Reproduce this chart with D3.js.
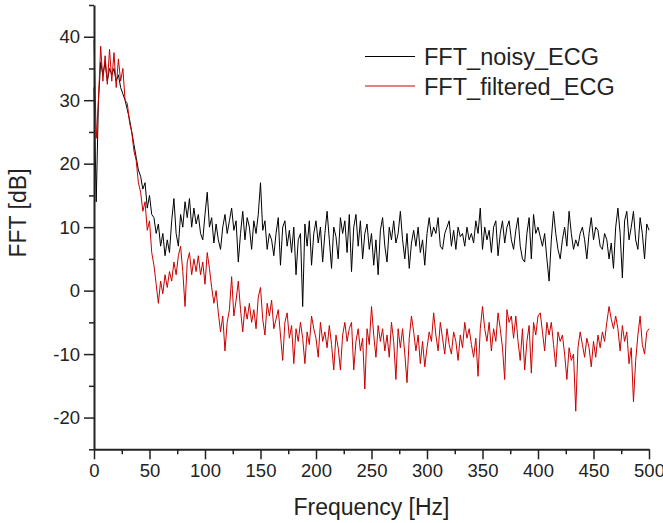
<!DOCTYPE html>
<html>
<head>
<meta charset="utf-8">
<script src="https://cdn.jsdelivr.net/npm/d3@7"></script>
<style>
  html, body { margin: 0; padding: 0; background: #fff; }
  svg { display: block; font-family: 'Liberation Sans', Arial, sans-serif; }
</style>
</head>
<body>
<div id="chart"></div>
<script>
// spectrum sampled every 2 Hz, 0..500 Hz
const FREQ_STEP = 2

const noisyECG = [
  32, 14, 30, 36, 34, 36, 33, 35, 34, 35,
  33, 34, 32, 31, 30, 28.5, 27, 25, 23, 21,
  19, 18, 16, 17, 13, 15, 12, 11.5, 9, 10.5,
  7, 9, 5.5, 8, 6, 11, 14.5, 9, 7, 12,
  10, 14, 11.5, 14.5, 10, 13, 10.5, 12, 9, 8,
  12, 15.5, 10, 11.5, 7.5, 10.5, 8, 6.5, 10, 12,
  9, 11, 13, 9.5, 11, 4.5, 9, 12.5, 8, 11.5,
  10, 6.5, 11, 9, 12, 17, 9.5, 11, 6.5, 9,
  8, 5.5, 9, 11.5, 4, 10, 11, 7, 9.5, 6,
  10, 2.5, 8, 9, -2.5, 10.5, 7, 11, 4, 9,
  11, 7.5, 10, 4.5, 9, 12.5, 8, 3.5, 10, 8.5,
  5, 11.5, 9, 11, 6, 12, 3, 10, 12, 7,
  11, 5, 9, 10.5, 6.5, 9, 4, 8, 2.5, 9.5,
  11.5, 7, 4.5, 10, 8, 11, 7.5, 9, 12.5, 8,
  5, 9, 3.5, 7.5, 9.5, 7, 10, 6, 8, 4,
  9, 11.5, 8.5, 10, 9, 11.5, 7, 6.5, 9, 10,
  11, 7, 9.5, 6.5, 10, 8.5, 9, 7, 10, 8,
  9, 7.5, 11, 9, 13, 6.5, 10, 8, 9.5, 6,
  10, 11, 5.5, 9, 11, 7.5, 10, 11, 8, 6.5,
  9.5, 11.5, 7, 5, 4.5, 9, 11.5, 5, 12, 9,
  10, 8.5, 7, 9, 5, 1.5, 8, 12.5, 9, 6.5,
  5, 8, 10, 7, 12.5, 9, 6.5, 8, 7, 9,
  10, 8, 5, 9, 11.5, 8, 10, 9.5, 7, 6.5,
  9, 8, 5, 7.5, 3.5, 10, 13, 9, 2, 11,
  12.5, 8, 10, 12.5, 8, 6.5, 11.5, 9, 5, 10.5,
  9.5
]

const filteredECG = [
  39.5, 24, 30, 38.5, 33, 37, 32.5, 38, 33, 37.5,
  32, 36.5, 33, 35, 30, 29.5, 26.5, 25, 22, 20.5,
  17, 15.5, 12.5, 14, 9.5, 11, 6, 4, 1, -2,
  1.5, -0.5, 2.5, 0.5, 3, 1.5, 4.5, 2.5, 5.5, 7,
  3, -2.5, 4.5, 6, 2.5, 5, 3, 5.5, 2.5, 4.5,
  1, 6, 3.5, 0.5, -2, 0, -3.5, -6.5, -4, -9.5,
  -5, -3, 2.2, -4, -1.5, 1.5, -3, -6.5, -2.5, -4.5,
  -2, -5, -3, -6, -1, 0.5, -4.5, -7, -2, -4,
  -1.5, -6, -4.5, -3, -7, -11, -5, -3.5, -7.5, -5.5,
  -11.5, -6, -8, -5, -7.5, -11.5, -6.5, -8.5, -4, -6,
  -7.5, -10.5, -5, -8, -6.5, -9, -5.5, -8.5, -12.5, -7,
  -9, -12.5, -7, -5, -8, -6, -5, -12.5, -8, -6,
  -9.5, -7.5, -15.5, -6, -8.5, -2.5, -7, -10.5, -5.5, -8,
  -6, -9.5, -7, -10.5, -5, -8, -14, -6, -9, -6,
  -10, -14.5, -7.5, -4, -6.5, -9.5, -7, -11.5, -8, -12,
  -9, -6.5, -8, -3.5, -7, -9.5, -5, -7.5, -10, -6,
  -8.5, -10, -6.5, -8, -11, -7, -9, -5, -7.5, -6,
  -8.5, -10.5, -7.5, -13.5, -6, -2.5, -6, -8, -5, -9.5,
  -6, -8, -3.5, -6, -9, -14, -3, -5, -4, -7.5,
  -4, -8, -11, -6, -12.5, -8, -5.5, -13, -5, -7,
  -4, -3.5, -6.5, -9.5, -5, -7, -5, -8.5, -12, -6.5,
  -8, -7, -10, -14, -9, -11, -10, -19, -9, -6.5,
  -8.5, -10.5, -7.5, -9, -12, -8, -10.5, -7, -9, -6.5,
  -8, -5, -2.5, -4.5, -6, -4, -6, -9.5, -5.5, -8,
  -6.5, -11.5, -9, -17.5, -11, -7, -4, -8.5, -10, -6.5,
  -6
]

const xTicks = [0, 50, 100, 150, 200, 250, 300, 350, 400, 450, 500]
const xMinor = [25, 75, 125, 175, 225, 275, 325, 375, 425, 475]
const yTicks = [-20, -10, 0, 10, 20, 30, 40]
const yMinor = [-25, -15, -5, 5, 15, 25, 35, 45]

const seriesNames = ['FFT_noisy_ECG', 'FFT_filtered_ECG']
const seriesColors = ['#000000', '#cc0000']

const width = 663
const height = 523
const margin = { top: 5, right: 14, bottom: 73.7, left: 94 }

const x = d3.scaleLinear()
  .domain([0, 500])
  .range([margin.left, width - margin.right])

const y = d3.scaleLinear()
  .domain([-25, 45])
  .range([height - margin.bottom, margin.top])

const svg = d3.select('#chart')
  .append('svg')
  .attr('width', width)
  .attr('height', height)

const line = d3.line()
  .x((d, i) => x(i * FREQ_STEP))
  .y(d => y(d))

// noisy first, filtered on top
;[noisyECG, filteredECG].forEach((s, k) => {
  svg.append('path')
    .datum(s)
    .attr('fill', 'none')
    .attr('stroke', seriesColors[k])
    .attr('stroke-width', 1)
    .attr('stroke-linejoin', 'round')
    .attr('d', line)
})

const styleAxis = g => {
  g.select('.domain').attr('stroke', '#222').attr('stroke-width', 2)
  g.selectAll('.tick line').attr('stroke', '#222').attr('stroke-width', 1.5)
  g.selectAll('.tick text').attr('fill', '#222').style('font-size', '18.5px')
}

// plain hyphen for negatives, like the original
const fmt = d => String(d)

// minor ticks
svg.append('g')
  .attr('transform', `translate(0,${y(-25)})`)
  .call(d3.axisBottom(x).tickValues(xMinor).tickSize(5).tickFormat(''))
  .call(g => g.select('.domain').remove())
  .call(styleAxis)

svg.append('g')
  .attr('transform', `translate(${x(0)},0)`)
  .call(d3.axisLeft(y).tickValues(yMinor).tickSize(5).tickFormat(''))
  .call(g => g.select('.domain').remove())
  .call(styleAxis)

// major axes
svg.append('g')
  .attr('transform', `translate(0,${y(-25)})`)
  .call(d3.axisBottom(x).tickValues(xTicks).tickFormat(fmt).tickSize(10).tickSizeOuter(0).tickPadding(5))
  .call(styleAxis)

svg.append('g')
  .attr('transform', `translate(${x(0)},0)`)
  .call(d3.axisLeft(y).tickValues(yTicks).tickFormat(fmt).tickSize(10).tickSizeOuter(0).tickPadding(4))
  .call(styleAxis)

// axis titles
svg.append('text')
  .attr('x', (x(0) + x(500)) / 2)
  .attr('y', 515)
  .attr('text-anchor', 'middle')
  .attr('fill', '#222')
  .style('font-size', '23px')
  .text('Frequency [Hz]')

svg.append('text')
  .attr('transform', 'translate(26,213) rotate(-90)')
  .attr('text-anchor', 'middle')
  .attr('fill', '#222')
  .style('font-size', '23px')
  .text('FFT [dB]')

// legend
const legend = svg.selectAll('.legend')
  .data(seriesNames)
  .enter()
  .append('g')
  .attr('class', 'legend')
  .attr('transform', (d, i) => `translate(365,${56.5 + i * 29.5})`)

legend.append('line')
  .attr('x1', 0)
  .attr('x2', 50)
  .attr('stroke', (d, i) => seriesColors[i])
  .attr('stroke-width', 1)

legend.append('text')
  .attr('x', 59)
  .attr('y', 8.5)
  .attr('fill', '#222')
  .style('font-size', '23.5px')
  .text(d => d)
</script>
</body>
</html>
